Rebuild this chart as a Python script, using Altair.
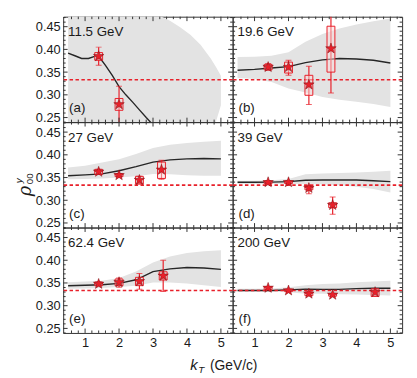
import altair as alt
import pandas as pd

# ---------------- data ----------------
energy_labels = ["11.5 GeV", "19.6 GeV", "27 GeV", "39 GeV", "62.4 GeV", "200 GeV"]
panel_letters = ["(a)", "(b)", "(c)", "(d)", "(e)", "(f)"]
isotropic = [1 / 3]

# model curves (b)-(f) share this kT grid
curve_x = [0.5, 1.0, 1.5, 2.0, 2.5, 3.0, 3.5, 4.0, 4.5, 5.0]

a_curve_x = [0.5, 0.7, 0.9, 1.1, 1.3, 1.4, 1.6, 1.8, 2.0, 2.2, 2.4, 2.6, 2.8, 2.95]
a_curve_y = [0.392, 0.386, 0.380, 0.380, 0.385, 0.385, 0.365, 0.343, 0.318, 0.300, 0.284, 0.267, 0.250, 0.238]
a_band_x = [0.5, 1.0, 1.5, 2.0, 2.5, 3.0, 3.2, 3.5, 3.8, 4.1, 4.4, 4.7, 4.85, 5.0]
a_band_hi = [0.6, 0.6, 0.6, 0.6, 0.56, 0.5, 0.474, 0.463, 0.449, 0.432, 0.41, 0.38, 0.362, 0.342]
a_band_lo = [0.2, 0.2, 0.2, 0.2, 0.2, 0.2, 0.2, 0.2, 0.2, 0.2, 0.2, 0.22, 0.24, 0.277]

b_curve_y = [0.354, 0.356, 0.359, 0.362, 0.371, 0.377, 0.380, 0.379, 0.376, 0.370]
b_band_hi = [0.383, 0.384, 0.386, 0.394, 0.417, 0.434, 0.446, 0.455, 0.462, 0.468]
b_band_lo = [0.337, 0.335, 0.328, 0.314, 0.305, 0.295, 0.289, 0.285, 0.280, 0.273]

c_curve_y = [0.354, 0.356, 0.358, 0.365, 0.374, 0.384, 0.389, 0.391, 0.392, 0.391]
c_band_hi = [0.372, 0.376, 0.383, 0.390, 0.402, 0.415, 0.422, 0.426, 0.429, 0.431]
c_band_lo = [0.346, 0.347, 0.348, 0.350, 0.353, 0.358, 0.357, 0.355, 0.354, 0.354]

d_curve_y = [0.3397, 0.3397, 0.340, 0.341, 0.344, 0.3446, 0.3446, 0.3446, 0.343, 0.341]
d_band_hi = [0.343, 0.343, 0.344, 0.347, 0.357, 0.359, 0.360, 0.361, 0.363, 0.365]
d_band_lo = [0.336, 0.336, 0.336, 0.336, 0.336, 0.335, 0.333, 0.330, 0.325, 0.317]

e_curve_y = [0.344, 0.345, 0.346, 0.349, 0.357, 0.375, 0.381, 0.384, 0.383, 0.380]
e_band_hi = [0.3515, 0.353, 0.355, 0.361, 0.375, 0.395, 0.408, 0.416, 0.420, 0.422]
e_band_lo = [0.337, 0.338, 0.339, 0.341, 0.344, 0.351, 0.351, 0.349, 0.345, 0.341]

f_curve_y = [0.3333, 0.3333, 0.3335, 0.3348, 0.3365, 0.336, 0.336, 0.3375, 0.3385, 0.3385]
f_band_hi = [0.337, 0.337, 0.338, 0.3406, 0.345, 0.3475, 0.349, 0.3515, 0.353, 0.355]
f_band_lo = [0.3311, 0.3311, 0.3305, 0.3297, 0.3265, 0.326, 0.325, 0.3246, 0.3235, 0.3224]

# measured points: kT, rho00, stat low/high, sys low/high
a_pt_x = [1.4, 2.0]
a_pt_y = [0.385, 0.279]
a_stat_lo = [0.365, 0.239]
a_stat_hi = [0.405, 0.319]
a_sys_lo = [0.376, 0.266]
a_sys_hi = [0.393, 0.292]

b_pt_x = [1.4, 2.0, 2.6, 3.25]
b_pt_y = [0.361, 0.361, 0.3225, 0.402]
b_stat_lo = [0.354, 0.343, 0.279, 0.304]
b_stat_hi = [0.369, 0.376, 0.363, 0.50]
b_sys_lo = [0.355, 0.348, 0.299, 0.350]
b_sys_hi = [0.367, 0.372, 0.343, 0.451]

c_pt_x = [1.4, 2.0, 2.6, 3.25]
c_pt_y = [0.3625, 0.355, 0.3446, 0.367]
c_stat_lo = [0.357, 0.351, 0.336, 0.346]
c_stat_hi = [0.368, 0.359, 0.353, 0.388]
c_sys_lo = [0.357, 0.352, 0.336, 0.348]
c_sys_hi = [0.368, 0.358, 0.3526, 0.384]

d_pt_x = [1.4, 2.0, 2.6, 3.3]
d_pt_y = [0.3396, 0.3396, 0.3268, 0.2894]
d_stat_lo = [0.336, 0.336, 0.3145, 0.2694]
d_stat_hi = [0.343, 0.343, 0.332, 0.307]
d_sys_lo = [0.337, 0.337, 0.323, 0.2837]
d_sys_hi = [0.342, 0.342, 0.330, 0.2945]

e_pt_x = [1.4, 2.0, 2.6, 3.3]
e_pt_y = [0.3478, 0.3515, 0.3537, 0.3659]
e_stat_lo = [0.344, 0.3406, 0.3363, 0.331]
e_stat_hi = [0.352, 0.361, 0.371, 0.400]
e_sys_lo = [0.344, 0.344, 0.3441, 0.3565]
e_sys_hi = [0.352, 0.3587, 0.3624, 0.3746]

f_pt_x = [1.4, 2.0, 2.6, 3.3, 4.55]
f_pt_y = [0.3391, 0.3333, 0.3263, 0.3239, 0.3298]
f_stat_lo = [0.336, 0.331, 0.323, 0.321, 0.322]
f_stat_hi = [0.342, 0.336, 0.330, 0.327, 0.337]
f_sys_lo = [0.336, 0.331, 0.322, 0.321, 0.3203]
f_sys_hi = [0.342, 0.336, 0.330, 0.327, 0.337]

x_major = [1, 2, 3, 4, 5]
y_major = [0.25, 0.30, 0.35, 0.40, 0.45]
x_minor = [round(0.6 + 0.2 * i, 2) for i in range(24) if abs((0.6 + 0.2 * i) - round(0.6 + 0.2 * i)) > 1e-6]
y_minor = [round(0.24 + 0.01 * i, 2) for i in range(24) if (i + 4) % 5 != 0 and 0.24 + 0.01 * i < 0.472]

# ---------------- styling ----------------
W, H = 172, 107
XDOM = [0.5, 5.2]
YDOM = [0.24, 0.472]
RED = "#e8202a"
FONT = "Liberation Sans"
TXT = "#1a1a1a"
STAR = ("M0,-1L0.235,-0.324L0.951,-0.309L0.38,0.124L0.588,0.809L0,0.4"
        "L-0.588,0.809L-0.38,0.124L-0.951,-0.309L-0.235,-0.324Z")


def panel(i, cx, cy, bx, blo, bhi, px, py, slo, shi, ylo, yhi, left, bottom, extra=None):
    xs = alt.Scale(domain=XDOM, nice=False, zero=False)
    ys = alt.Scale(domain=YDOM, nice=False, zero=False)
    if bottom:
        xax = alt.Axis(values=x_major, ticks=False, domain=False, grid=False, labelFontSize=13,
                       labelPadding=4, labelFont=FONT, labelColor=TXT, title=None)
    else:
        xax = None
    if left:
        yax = alt.Axis(values=y_major, format=".2f", ticks=False, domain=False, grid=False, labelFontSize=13,
                       labelPadding=3, labelFont=FONT, labelColor=TXT, title=None)
    else:
        yax = None

    def X(f):
        return alt.X(f, type="quantitative", scale=xs, axis=xax)

    def Y(f):
        return alt.Y(f, type="quantitative", scale=ys, axis=yax)

    band_df = pd.DataFrame({"x": bx, "lo": blo, "hi": bhi})
    curve_df = pd.DataFrame({"x": cx, "y": cy})
    pts = pd.DataFrame({"x": px, "y": py, "slo": slo, "shi": shi, "ylo": ylo, "yhi": yhi})
    iso = pd.DataFrame({"y": isotropic})

    band = alt.Chart(band_df).mark_area(color="#e3e3e3", clip=True).encode(x=X("x"), y=Y("lo"), y2="hi")
    line = alt.Chart(curve_df).mark_line(color="#262626", strokeWidth=1.4, clip=True).encode(x=X("x"), y=Y("y"))
    dash = alt.Chart(iso).mark_rule(color=RED, strokeWidth=1.6, strokeDash=[3.5, 2.5]).encode(y=Y("y"))
    err = alt.Chart(pts).mark_rule(color=RED, strokeWidth=1.2, clip=True).encode(x=X("x"), y=Y("ylo"), y2="yhi")
    cap_lo = alt.Chart(pts).mark_tick(color=RED, orient="horizontal", size=6, thickness=1, clip=True).encode(x=X("x"), y=Y("ylo"))
    cap_hi = alt.Chart(pts).mark_tick(color=RED, orient="horizontal", size=6, thickness=1, clip=True).encode(x=X("x"), y=Y("yhi"))
    box = alt.Chart(pts).mark_bar(size=8, fill="#fbdada", fillOpacity=0.5, stroke=RED, strokeWidth=1, clip=True).encode(
        x=X("x"), y=Y("slo"), y2="shi")
    star = alt.Chart(pts).mark_point(shape=STAR, filled=True, size=125, color=RED, opacity=1,
                                     stroke="#7a0c10", strokeWidth=0.5).encode(x=X("x"), y=Y("y"))

    lab = pd.DataFrame({"e": [energy_labels[i]], "p": [panel_letters[i]]})
    etext = alt.Chart(lab).mark_text(align="left", baseline="alphabetic", fontSize=13.5, font=FONT, color=TXT).encode(
        text="e:N", x=alt.value(5), y=alt.value(20))
    ptext = alt.Chart(lab).mark_text(align="left", baseline="alphabetic", fontSize=13.5, font=FONT, color=TXT).encode(
        text="p:N", x=alt.value(6), y=alt.value(97))

    tk = "#333333"
    yM = pd.DataFrame({"v": y_major})
    ym = pd.DataFrame({"v": y_minor})
    xM = pd.DataFrame({"v": x_major})
    xm = pd.DataFrame({"v": x_minor})
    ticks = [
        alt.Chart(yM).mark_rule(color=tk, strokeWidth=1).encode(y=Y("v"), x=alt.value(0), x2=alt.value(4.5)),
        alt.Chart(ym).mark_rule(color=tk, strokeWidth=1).encode(y=Y("v"), x=alt.value(0), x2=alt.value(2.5)),
        alt.Chart(yM).mark_rule(color=tk, strokeWidth=1).encode(y=Y("v"), x=alt.value(W), x2=alt.value(W - 4.5)),
        alt.Chart(ym).mark_rule(color=tk, strokeWidth=1).encode(y=Y("v"), x=alt.value(W), x2=alt.value(W - 2.5)),
        alt.Chart(xM).mark_rule(color=tk, strokeWidth=1).encode(x=X("v"), y=alt.value(0), y2=alt.value(4.5)),
        alt.Chart(xm).mark_rule(color=tk, strokeWidth=1).encode(x=X("v"), y=alt.value(0), y2=alt.value(2.5)),
        alt.Chart(xM).mark_rule(color=tk, strokeWidth=1).encode(x=X("v"), y=alt.value(H), y2=alt.value(H - 4.5)),
        alt.Chart(xm).mark_rule(color=tk, strokeWidth=1).encode(x=X("v"), y=alt.value(H), y2=alt.value(H - 2.5)),
    ]
    layers = [band, line, dash, err, cap_lo, cap_hi, box, star, etext, ptext] + ticks
    if extra:
        layers += extra
    return alt.layer(*layers).properties(width=W, height=H)


# y-axis title  rho^y_00 (drawn on middle-left panel)
ytitle_df = pd.DataFrame({"rho": ["ρ"], "sup": ["y"], "sub": ["00"]})
ytitle = [
    alt.Chart(ytitle_df).mark_text(angle=270, fontSize=18, font="DejaVu Serif", fontStyle="italic", color=TXT,
                                   align="center", baseline="middle").encode(text="rho:N", x=alt.value(-38), y=alt.value(70)),
    alt.Chart(ytitle_df).mark_text(angle=270, fontSize=10, font=FONT, color=TXT,
                                   align="left", baseline="middle").encode(text="sub:N", x=alt.value(-34), y=alt.value(63)),
    alt.Chart(ytitle_df).mark_text(angle=270, fontSize=10, font=FONT, fontStyle="italic", color=TXT,
                                   align="left", baseline="middle").encode(text="sup:N", x=alt.value(-45), y=alt.value(62)),
]

# x-axis title  k_T (GeV/c)
xtitle_df = pd.DataFrame({"k": ["k"], "T": ["T"], "u": ["(GeV/c)"]})
xtitle_left = [
    alt.Chart(xtitle_df).mark_text(fontSize=15, font=FONT, fontStyle="italic", color=TXT, align="left",
                                   baseline="alphabetic").encode(text="k:N", x=alt.value(129), y=alt.value(145)),
    alt.Chart(xtitle_df).mark_text(fontSize=10, font=FONT, fontStyle="italic", color=TXT, align="left",
                                   baseline="alphabetic").encode(text="T:N", x=alt.value(137), y=alt.value(148)),
    alt.Chart(xtitle_df).mark_text(fontSize=14, font=FONT, color=TXT, align="left",
                                   baseline="alphabetic").encode(text="u:N", x=alt.value(149), y=alt.value(145)),
]

pa = panel(0, a_curve_x, a_curve_y, a_band_x, a_band_lo, a_band_hi, a_pt_x, a_pt_y, a_sys_lo, a_sys_hi, a_stat_lo, a_stat_hi, True, False)
pb = panel(1, curve_x, b_curve_y, curve_x, b_band_lo, b_band_hi, b_pt_x, b_pt_y, b_sys_lo, b_sys_hi, b_stat_lo, b_stat_hi, False, False)
pc = panel(2, curve_x, c_curve_y, curve_x, c_band_lo, c_band_hi, c_pt_x, c_pt_y, c_sys_lo, c_sys_hi, c_stat_lo, c_stat_hi, True, False, ytitle)
pd_ = panel(3, curve_x, d_curve_y, curve_x, d_band_lo, d_band_hi, d_pt_x, d_pt_y, d_sys_lo, d_sys_hi, d_stat_lo, d_stat_hi, False, False)
pe = panel(4, curve_x, e_curve_y, curve_x, e_band_lo, e_band_hi, e_pt_x, e_pt_y, e_sys_lo, e_sys_hi, e_stat_lo, e_stat_hi, True, True, xtitle_left)
pf = panel(5, curve_x, f_curve_y, curve_x, f_band_lo, f_band_hi, f_pt_x, f_pt_y, f_sys_lo, f_sys_hi, f_stat_lo, f_stat_hi, False, True)

chart = alt.concat(pa, pb, pc, pd_, pe, pf, columns=2, spacing=0, bounds="flush").configure_view(
    stroke="#333333", strokeWidth=1
)

chart.save("out.html", embed_options={"renderer": "svg", "actions": False})
